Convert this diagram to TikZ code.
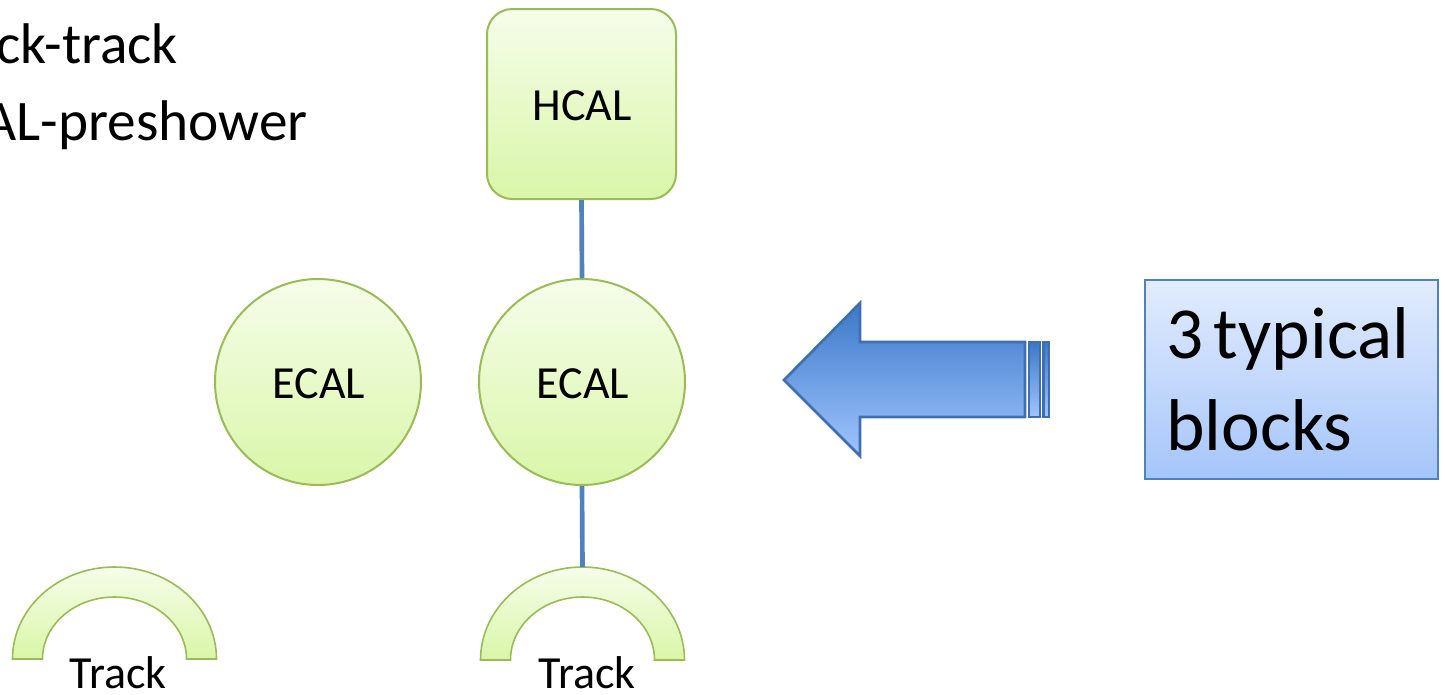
\documentclass[tikz,border=0pt]{standalone}
\usepackage{fontspec}
\setmainfont{Carlito}
\definecolor{grnborder}{HTML}{9BBB59}
\definecolor{grntop}{HTML}{F6FDEA}
\definecolor{grnbot}{HTML}{D9F6A8}
\definecolor{linkblue}{HTML}{4F81BD}
\definecolor{arrtop}{HTML}{3C78C8}
\definecolor{arrbot}{HTML}{A0C5FF}
\definecolor{arredge}{HTML}{3F6FAE}
\definecolor{boxtop}{HTML}{E2ECFD}
\definecolor{boxbot}{HTML}{A5C5FA}
\tikzset{
  greenshape/.style={draw=grnborder, line width=1.5pt, top color=grntop, bottom color=grnbot},
  hcalbox/.style={greenshape, rectangle, rounded corners=19pt, minimum width=141.75pt, minimum height=142.5pt, inner sep=0pt},
  ecalnode/.style={greenshape, circle, minimum size=154.5pt, inner sep=0pt},
  trackarc/.style={greenshape, line width=1.2pt},
  link/.style={draw=linkblue, line width=3.5pt},
  lbl/.style={font=\fontsize{34.5}{40}\selectfont, inner sep=0pt},
  bigtxt/.style={font=\fontsize{43}{50}\selectfont, inner sep=0pt, anchor=base east},
  bigarrow/.style={draw=arredge, line width=2pt, line join=miter, top color=arrtop, bottom color=arrbot},
  notebox/.style={draw=linkblue, line width=1.5pt, top color=boxtop, bottom color=boxbot,
    minimum width=219.75pt, minimum height=149.25pt, text width=188pt, align=left,
    inner xsep=0pt, font=\fontsize{55}{69}\selectfont}
}
\begin{document}
\begin{tikzpicture}[x=0.75pt, y=-0.75pt]
\useasboundingbox (0,0) rectangle (1445,694);
\begin{scope}
\clip (0,0) rectangle (1445,694);

% list items at the upper left
\node[bigtxt] (item1) at (178,63) {ck-track};
\node[bigtxt] (item2) at (308,140) {AL-preshower};

% blocks
\node[hcalbox] (hcal) at (581.5,104) {};
\node[lbl] (hcaltxt) at (582,106) {HCAL};
\node[ecalnode] (ecalL) at (318,382) {};
\node[lbl] (ecalLtxt) at (319,384) {ECAL};
\node[ecalnode] (ecalR) at (582,382) {};
\node[lbl] (ecalRtxt) at (583,384) {ECAL};

% track arcs (half annuli)
\path[trackarc] (12.5,659) arc[start angle=180, end angle=360, x radius=102, y radius=92]
  -- (186.5,659) arc[start angle=0, end angle=-180, x radius=72, y radius=62] -- cycle;
\path[trackarc] (480.5,660) arc[start angle=180, end angle=360, x radius=102, y radius=93]
  -- (654.5,660) arc[start angle=0, end angle=-180, x radius=72, y radius=63] -- cycle;
\coordinate (trkRtop) at (582.5,567);
\node[lbl, anchor=base] (trkLtxt) at (118,688) {Track};
\node[lbl, anchor=base] (trkRtxt) at (587,688) {Track};

% links
\draw[link] (hcal.south) -- (ecalR.north);
\draw[link] (ecalR.south) -- (trkRtop);

% big left-pointing arrow with striped tail
\path[bigarrow] (784,380) -- (860,303) -- (860,342) -- (1025,342) -- (1025,417)
  -- (860,417) -- (860,456) -- cycle;
\path[bigarrow] (1029,342) rectangle (1040,417);
\path[bigarrow] (1043.5,342) rectangle (1049,417);

% note box
\node[notebox] (note) at (1291.5,379.5) {\mbox{3\hspace{8pt}typical}\\blocks};
\end{scope}
\end{tikzpicture}
\end{document}
